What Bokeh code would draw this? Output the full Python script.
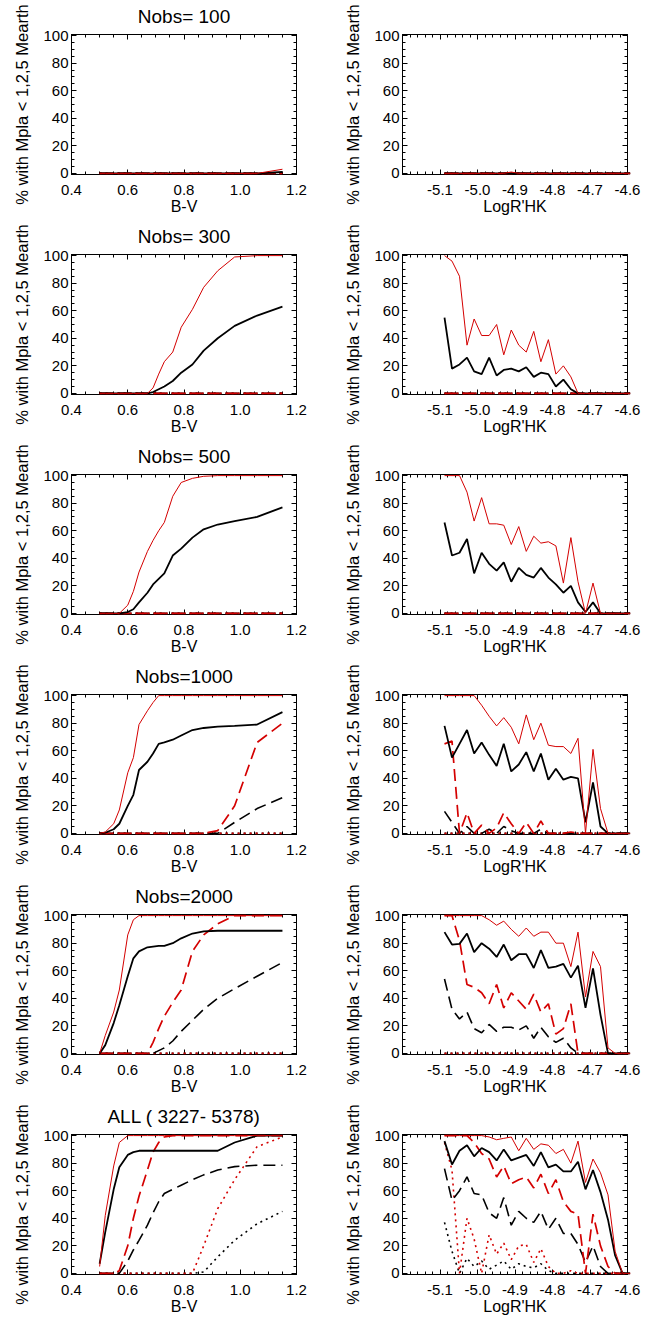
import numpy as np
from bokeh.plotting import figure
from bokeh.models import (Range1d, LinearAxis, FixedTicker, NumeralTickFormatter,
                          CustomLabelingPolicy)
from bokeh.layouts import column, row
from bokeh.embed import file_html
from bokeh.resources import INLINE

# ---------------- data ----------------
BV = [0.50, 0.52, 0.55, 0.57, 0.60, 0.62, 0.64, 0.67, 0.69, 0.71,
      0.73, 0.76, 0.79, 0.83, 0.87, 0.92, 0.98, 1.06, 1.15]
LOGR = [-5.088, -5.068, -5.048, -5.028, -5.009, -4.989, -4.969, -4.949, -4.930,
        -4.910, -4.890, -4.870, -4.850, -4.831, -4.811, -4.791, -4.771, -4.751,
        -4.732, -4.712, -4.692, -4.672, -4.652, -4.633, -4.613, -4.593]

TITLES = ["Nobs= 100", "Nobs= 300", "Nobs= 500", "Nobs=1000", "Nobs=2000",
          "ALL ( 3227- 5378)"]

LR_ZERO = [0] * 26

# B-V panels (black / red ; solid = 5 Mearth, dashed = 2 Mearth, dotted = 1 Mearth)
bv100_black_solid = [0, 0, 0, 0, 0, 0, 0, 0, 0, 0, 0, 0, 0, 0, 0, 0, 0, 0, 1]
bv100_red_solid = [0, 0, 0, 0, 0, 0, 0, 0, 0, 0, 0, 0, 0, 0, 0, 0, 0, 0, 3]

bv300_black_solid = [0, 0, 0, 0, 0, 0, 0, 0, 1, 3, 5, 9, 15, 21, 31, 40, 49, 56.5, 63]
bv300_red_solid = [0, 0, 0, 0, 0, 0, 0, 0, 4, 14, 23, 30, 48, 61, 77, 89, 99, 100, 100]

bv500_black_solid = [0, 0, 0, 0, 1, 3, 8, 15, 21, 25, 29, 42, 47, 55, 61, 64.5, 67, 70, 77]
bv500_red_solid = [0, 0, 0, 0, 6, 16, 30, 45, 53, 60, 66, 85, 95, 98, 99.5, 100, 100, 100, 100]

bv1000_black_solid = [0, 0.5, 3, 7, 20, 28, 46, 52, 58, 65, 66, 68, 71, 75, 76.5, 77.5, 78, 79, 88]
bv1000_red_solid = [0, 1, 7, 17, 44, 55, 79, 89, 95, 100, 100, 100, 100, 100, 100, 100, 100, 100, 100]
bv1000_black_dash = [0, 0, 0, 0, 0, 0, 0, 0, 0, 0, 0, 0, 0, 0, 0, 0, 8, 18, 26]
bv1000_red_dash = [0, 0, 0, 0, 0, 0, 0, 0, 0, 0, 0, 0, 0, 0, 0, 2, 20, 66, 80]

bv2000_black_solid = [0, 6, 22, 35, 56, 69, 74, 77, 77.5, 78, 78, 80, 83.5, 87, 88.5, 89, 89, 89, 89]
bv2000_red_solid = [0, 13, 30, 46, 86, 97, 100, 100, 100, 100, 100, 100, 100, 100, 100, 100, 100, 100, 100]
bv2000_black_dash = [0, 0, 0, 0, 0, 0, 0, 0, 0, 2, 4, 9, 16, 24, 32, 40, 47, 56, 66]
bv2000_red_dash = [0, 0, 0, 0, 0, 0, 0, 0, 8, 18, 27, 37, 46, 74, 86, 94, 100, 100, 100]

bvall_black_solid = [7, 30, 61, 77, 86, 88, 89, 89, 89, 89, 89, 89, 89, 89, 89, 89, 95, 100, 100]
bvall_red_solid = [5, 42, 78, 95, 100, 100, 100, 100, 100, 100, 100, 100, 100, 100, 100, 100, 100, 100, 100]
bvall_black_dash = [0, 0, 0, 0, 9, 17, 24, 35, 44, 52, 58, 61, 64, 68, 71.5, 75, 77.5, 78.5, 78.5]
bvall_red_dash = [0, 0, 0, 2, 20, 40, 56, 75, 88, 95, 99, 100, 100, 100, 100, 100, 100, 100, 100]
bvall_black_dot = [0, 0, 0, 0, 0, 0, 0, 0, 0, 0, 0, 0, 0, 0, 1, 12, 24, 36, 45]
bvall_red_dot = [0, 0, 0, 0, 0, 0, 0, 0, 0, 0, 0, 0, 0, 0, 20, 47, 68, 92, 99]

# LogR'HK panels
lr100_black_solid = LR_ZERO
lr100_red_solid = [0, 0, 0, 0, 0, 0, 0, 0, 0, 1, 0, 0, 0, 0, 0, 0, 0, 0, 0, 0, 0, 0, 0, 0, 0, 0]

lr300_black_solid = [55, 18, 21, 26, 16, 14, 26, 13, 17, 18, 16, 19, 12, 15, 14, 5, 10, 3, 0, 0, 0, 0, 0, 0, 0, 0]
lr300_red_solid = [100, 96, 85, 35, 54, 42, 42, 50, 28, 46, 35, 30, 45, 23, 39, 14, 20, 12, 0, 0, 0, 0, 0, 0, 0, 0]

lr500_black_solid = [66, 42, 44, 54, 29, 44, 36, 31, 37, 23, 33, 28, 26, 33, 26, 21, 15, 20, 8, 1, 8, 0, 0, 0, 0, 0]
lr500_red_solid = [100, 100, 100, 88, 67, 84, 65, 65, 64, 50, 63, 45, 56, 51, 52, 49, 22, 55, 23, 0, 22, 0, 0, 0, 0, 0]

lr1000_black_solid = [78, 55, 65, 75, 58, 66, 57, 49, 65, 45, 50, 59, 45, 58, 39, 47, 39, 41, 40, 8, 37, 5, 0, 0, 0, 0]
lr1000_red_solid = [100, 100, 100, 100, 100, 93, 85, 78, 84, 77, 65, 86, 68, 80, 64, 63, 63, 58, 69, 0, 61, 18, 0, 0, 0, 0]
lr1000_black_dash = [16, 8, 0, 5, 0, 0, 3, 0, 5, 2, 0, 0, 0, 3, 0, 0, 0, 0, 0, 0, 0, 0, 0, 0, 0, 0]
lr1000_red_dash = [65, 67, 0, 15, 0, 6, 0, 4, 15, 7, 0, 8, 0, 9, 0, 0, 0, 1, 0, 0, 0, 0, 0, 0, 0, 0]

lr2000_black_solid = [88, 79, 79.5, 87, 73.5, 80, 76, 70, 79, 67.6, 72, 72, 62, 75, 62, 63, 65, 55, 63.6, 33, 61.7, 28, 0, 0, 0, 0]
lr2000_red_solid = [100, 100, 100, 100, 100, 100, 97, 93, 96, 90, 85, 91, 85, 88, 88, 80, 80, 63, 88, 41, 74, 63, 4, 0, 0, 0]
lr2000_black_dash = [54, 32, 25, 30, 18, 15, 21, 16, 19, 19, 17, 20, 11, 19, 12, 8, 11, 4, 0, 0, 0, 0, 0, 0, 0, 0]
lr2000_red_dash = [100, 100, 82, 50, 48, 44, 36, 50, 33, 44, 38, 32, 43, 30, 36, 14, 18, 36, 0, 0, 0, 0, 0, 0, 0, 0]

lrall_black_solid = [96, 79, 89, 93, 85, 91, 88, 82, 90, 82, 84, 86, 78, 88, 77, 79, 74, 74, 81, 61, 75, 59, 39, 13, 0, 0]
lrall_red_solid = [100, 100, 100, 100, 100, 100, 99, 97, 98, 99, 89, 98, 90, 94, 93, 87, 90, 80, 96, 66, 83, 73, 57, 16, 0, 0]
lrall_black_dash = [76, 53, 60, 70, 58, 57, 44, 40, 55, 35, 45, 40, 37, 45, 32, 40, 29, 29, 21, 8, 20, 5, 0, 0, 0, 0]
lrall_red_dash = [100, 100, 100, 100, 95, 87, 83, 70, 78, 65, 68, 70, 62, 72, 58, 68, 52, 45, 43, 0, 43, 20, 5, 0, 0, 0]
lrall_black_dot = [37, 16, 0, 11, 5, 9, 3, 6, 9, 3, 7, 5, 4, 7, 2, 0, 0, 0, 0, 0, 0, 0, 0, 0, 0, 0]
lrall_red_dot = [95, 75, 0, 40, 25, 0, 28, 14, 22, 10, 20, 21, 8, 18, 5, 0, 0, 2, 0, 0, 0, 0, 0, 0, 0, 0]

BV_PANELS = [
    dict(black_solid=bv100_black_solid, red_solid=bv100_red_solid),
    dict(black_solid=bv300_black_solid, red_solid=bv300_red_solid),
    dict(black_solid=bv500_black_solid, red_solid=bv500_red_solid),
    dict(black_solid=bv1000_black_solid, red_solid=bv1000_red_solid,
         black_dash=bv1000_black_dash, red_dash=bv1000_red_dash),
    dict(black_solid=bv2000_black_solid, red_solid=bv2000_red_solid,
         black_dash=bv2000_black_dash, red_dash=bv2000_red_dash),
    dict(black_solid=bvall_black_solid, red_solid=bvall_red_solid,
         black_dash=bvall_black_dash, red_dash=bvall_red_dash,
         black_dot=bvall_black_dot, red_dot=bvall_red_dot),
]
LR_PANELS = [
    dict(black_solid=lr100_black_solid, red_solid=lr100_red_solid),
    dict(black_solid=lr300_black_solid, red_solid=lr300_red_solid),
    dict(black_solid=lr500_black_solid, red_solid=lr500_red_solid),
    dict(black_solid=lr1000_black_solid, red_solid=lr1000_red_solid,
         black_dash=lr1000_black_dash, red_dash=lr1000_red_dash),
    dict(black_solid=lr2000_black_solid, red_solid=lr2000_red_solid,
         black_dash=lr2000_black_dash, red_dash=lr2000_red_dash),
    dict(black_solid=lrall_black_solid, red_solid=lrall_red_solid,
         black_dash=lrall_black_dash, red_dash=lrall_red_dash,
         black_dot=lrall_black_dot, red_dot=lrall_red_dot),
]

# ---------------- styling ----------------
RED = "#d40000"
FONT = "Liberation Sans"
STYLES = [  # drawing order
    ("black_dot", "black", 1.6, "2 4"),
    ("red_dot", RED, 1.6, "2 4"),
    ("black_dash", "black", 1.6, "12 6"),
    ("red_dash", RED, 1.7, "12 6"),
    ("black_solid", "black", 1.8, "solid"),
    ("red_solid", RED, 1.0, "solid"),
]
YLABEL = "% with Mpla < 1,2,5 Mearth"

BV_MAJOR = [0.4, 0.6, 0.8, 1.0, 1.2]
BV_MINOR = list(np.round(np.arange(0.4, 1.2001, 0.05), 3))
LR_MAJOR = [-5.1, -5.0, -4.9, -4.8, -4.7, -4.6]
LR_MINOR = list(np.round(np.arange(-5.2, -4.5999, 0.02), 3))
Y_MAJOR = [0, 20, 40, 60, 80, 100]
Y_MINOR = list(range(0, 101, 5))


def style_axis(ax, labels=True):
    ax.axis_line_color = "black"
    ax.axis_line_width = 1
    ax.major_tick_line_color = "black"
    ax.minor_tick_line_color = "black"
    ax.major_tick_in = 5
    ax.major_tick_out = 0
    ax.minor_tick_in = 3
    ax.minor_tick_out = 0
    ax.major_label_text_font = FONT
    ax.major_label_text_color = "black"
    ax.axis_label_text_font = FONT
    ax.axis_label_text_font_style = "normal"
    ax.axis_label_text_color = "black"
    if labels:
        ax.major_label_text_font_size = "15px"
        ax.axis_label_text_font_size = "16px"
    else:
        ax.major_label_policy = CustomLabelingPolicy(code="return []")
        ax.major_label_text_font_size = "1px"
        ax.major_label_standoff = 0


def make_panel(xs, series, xr, xmaj, xmin, xlabel, title, height, border_bottom):
    p = figure(width=331, height=height,
               x_range=Range1d(*xr), y_range=Range1d(-0.8, 100.8),
               output_backend="svg", toolbar_location=None,
               min_border_left=71, min_border_right=35,
               min_border_top=32, min_border_bottom=border_bottom,
               x_axis_type=None, y_axis_type=None)
    if title:
        p.title.text = title
    p.title.text_font = FONT
    p.title.text_font_size = "19px"
    p.title.text_font_style = "normal"
    p.title.text_color = "black"
    p.title.align = "center"
    p.title.standoff = 7
    p.xgrid.visible = False
    p.ygrid.visible = False
    p.outline_line_color = "black"
    p.outline_line_width = 1
    p.background_fill_color = "white"
    p.border_fill_color = "white"

    xt = FixedTicker(ticks=xmaj, minor_ticks=xmin)
    yt = FixedTicker(ticks=Y_MAJOR, minor_ticks=Y_MINOR)

    xb = LinearAxis(ticker=xt, formatter=NumeralTickFormatter(format="0.0"),
                    axis_label=xlabel)
    style_axis(xb)
    xb.major_label_standoff = 10
    xb.axis_label_standoff = 0
    p.add_layout(xb, "below")

    yl = LinearAxis(ticker=yt, formatter=NumeralTickFormatter(format="0"),
                    axis_label=YLABEL)
    style_axis(yl)
    yl.axis_label_text_font_size = "16.5px"
    yl.major_label_standoff = 3
    yl.axis_label_standoff = 9
    p.add_layout(yl, "left")

    xa = LinearAxis(ticker=xt)
    style_axis(xa, labels=False)
    p.add_layout(xa, "above")
    yr = LinearAxis(ticker=yt)
    style_axis(yr, labels=False)
    p.add_layout(yr, "right")

    for key, color, lw, dash in STYLES:
        ys = series.get(key, [0] * len(xs))
        p.line(xs, ys, line_color=color, line_width=lw, line_dash=dash,
               level="overlay")
    return p


rows = []
for i in range(6):
    h = 217 if i == 5 else 220
    bb = h - 32 - 142
    left = make_panel(BV, BV_PANELS[i], (0.4, 1.2), BV_MAJOR, BV_MINOR, "B-V",
                      TITLES[i], h, bb)
    right = make_panel(LOGR, LR_PANELS[i], (-5.2, -4.6), LR_MAJOR, LR_MINOR,
                       "LogR'HK", None, h, bb)
    rows.append(row(left, right, spacing=0))

layout = column(*rows, spacing=0)
open("out.html", "w").write(file_html(layout, INLINE))
